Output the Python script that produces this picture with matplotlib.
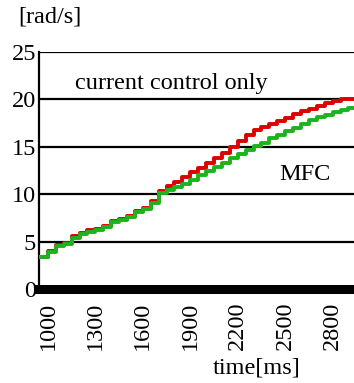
import numpy as np
import matplotlib
matplotlib.use('Agg')
from matplotlib import pyplot as plt

# time axis [ms]
t = np.arange(950, 3000, 50)

# MFC (green)
mfc = [3.4, 3.9, 4.5, 4.8, 5.4, 5.8, 6.0, 6.2, 6.5, 7.1,
       7.3, 7.6, 8.1, 8.4, 9.1, 10.1, 10.5, 10.8, 11.1, 11.5,
       12.0, 12.4, 12.9, 13.3, 13.8, 14.2, 14.7, 15.1, 15.4, 15.9,
       16.3, 16.7, 17.0, 17.4, 17.8, 18.1, 18.4, 18.7, 18.9, 19.1,
       19.3]

# current control only (red)
cur = [3.4, 4.0, 4.6, 4.9, 5.6, 5.9, 6.2, 6.3, 6.7, 7.2,
       7.4, 7.7, 8.2, 8.6, 9.3, 10.3, 10.9, 11.3, 11.8, 12.3,
       12.8, 13.3, 13.8, 14.3, 15.0, 15.6, 16.3, 16.8, 17.1, 17.4,
       17.7, 18.0, 18.5, 18.8, 19.0, 19.3, 19.6, 19.8, 20.0, 20.1,
       20.2]

xticks = [1000, 1300, 1600, 1900, 2200, 2500, 2800]
yticks = [0, 5, 10, 15, 20, 25]

plt.rcParams['font.family'] = ['Liberation Serif', 'DejaVu Serif']
fs = 17.5

fig = plt.figure()
fig.set_dpi(100)
fig.set_size_inches(3.54, 3.83)

ax = fig.add_axes([0.110, 0.2454, 0.89, 0.6186])
ax.set_xlim(943, 2935)
ax.set_ylim(0, 25)

# horizontal lines
for y in yticks[1:]:
    ax.axhline(y, color='black', lw=1.6, zorder=1)

ax.plot(t, cur, color='#dd0000', lw=2.8, drawstyle='steps-post', zorder=3)
ax.plot(t, mfc, color='#1db31d', lw=2.8, drawstyle='steps-post', zorder=4)

ax.axhline(0, color='black', lw=6.5, zorder=5, clip_on=False)

for s in ['top', 'right', 'bottom']:
    ax.spines[s].set_visible(False)
ax.spines['left'].set_linewidth(1.6)

ax.set_xticks(xticks)
ax.set_xticklabels([str(v) for v in xticks], rotation=90)
ax.set_yticks(yticks)
ax.tick_params(axis='both', length=0, labelsize=fs)
ax.tick_params(axis='x', pad=9)
ax.tick_params(axis='y', pad=2)

ax.text(1783, 21.7, 'current control only', fontsize=fs, ha='center', va='center')
ax.text(2623, 12.1, 'MFC', fontsize=fs, ha='center', va='center')

fig.text(50 / 354, 1 - 17 / 383, '[rad/s]', fontsize=fs, ha='center', va='center')
fig.text(257 / 354, 1 - 368 / 383, 'time[ms]', fontsize=fs, ha='center', va='center')

fig.savefig('out.png', dpi=100)
